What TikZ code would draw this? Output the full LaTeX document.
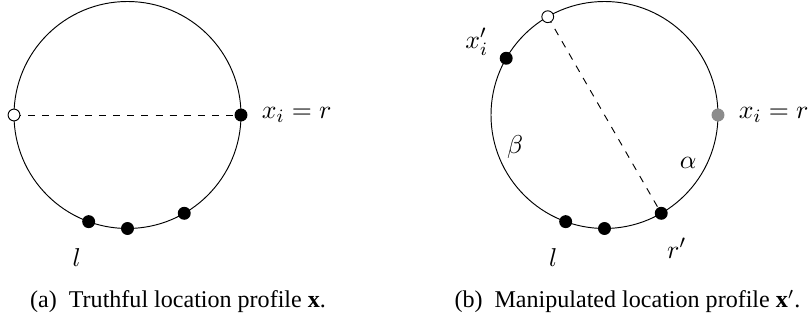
\documentclass[tikz,border=0pt]{standalone}
\usepackage{fontspec}
\setmainfont{Liberation Serif}
\usetikzlibrary{positioning}
\definecolor{faded}{gray}{0.55}
\tikzset{px/.style={x=0.424pt,y=0.424pt,line width=.4pt},
  site/.style={circle,fill,inner sep=0pt,minimum size=5.5pt},
  hole/.style={site,fill=white,draw,minimum size=5pt},
  lab/.style={font=\fontsize{11}{13}\selectfont},
  subcap/.style={font=\fontsize{10.2}{12}\selectfont}}

\begin{document}
\begin{tikzpicture}[px]
  \useasboundingbox (0,0) rectangle (811,324);
  % (a) truthful
  \begin{scope}[shift={(127.5,209)}]
    \draw (0,0) circle (113.5);
    \draw[dashed] (180:113.5) coordinate (a0) -- (0:113.5) coordinate (ar);
    \node[hole] (a0n) at (a0) {};
    \node[site] (arn) at (ar) {};
    \foreach \t/\n in {250/1,270/2,300/3}{\node[site] (a\n) at (\t:113.5) {};}
    \node[lab,anchor=west] at (126,0) {$x_i = r$};
    \node[lab] at (-50.8,-142.5) {$l$};
  \end{scope}
  % (b) manipulated
  \begin{scope}[shift={(604.5,209)}]
    \draw (0,0) circle (113.5);
    \draw[dashed] (120:113.5) coordinate (b0) -- (300:113.5) coordinate (brp);
    \node[hole] (b0n) at (b0) {};
    \node[site] (brpn) at (brp) {};
    \node[site,fill=faded] (br) at (0:113.5) {};
    \node[site] (bxi) at (150:113.5) {};
    \foreach \t/\n in {250/1,270/2}{\node[site] (b\n) at (\t:113.5) {};}
    \node[lab,anchor=west] at (126,0) {$x_i = r$};
    \node[lab] at (-127.8,73.3) {$x_i'$};
    \node[lab] at (-89.5,-31.7) {$\beta$};
    \node[lab] at (83.8,-48.3) {$\alpha$};
    \node[lab] at (-51.2,-142.5) {$l$};
    \node[lab] at (72.2,-133.3) {$r'$};
  \end{scope}
  \node[subcap] at (178,22.3) {(a)\hspace{0.5em}Truthful location profile \textbf{x}.};
  \node[subcap] at (627.5,22.3) {(b)\hspace{0.5em}Manipulated location profile \textbf{x}$'$.};
\end{tikzpicture}
\end{document}
